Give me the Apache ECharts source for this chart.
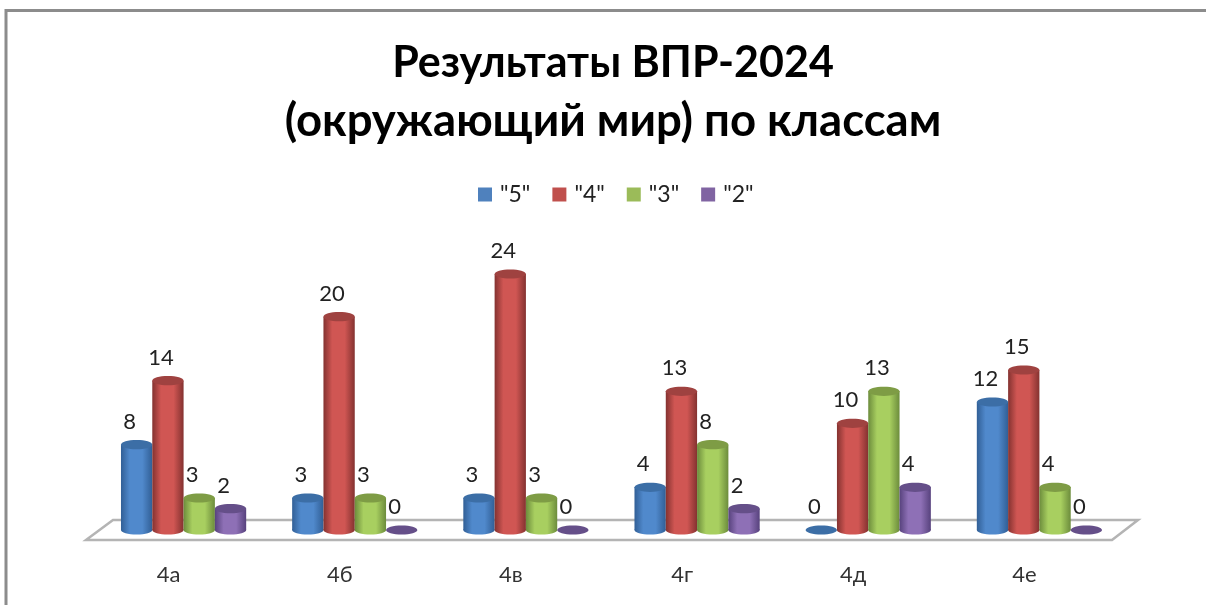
<!DOCTYPE html>
<html>
<head>
<meta charset="utf-8">
<script src="https://cdn.jsdelivr.net/npm/echarts@6/dist/echarts.min.js"></script>
<style>
  html, body { margin: 0; padding: 0; background: #fff; }
  #main { width: 1206px; height: 605px; }
</style>
</head>
<body>
<div id="main"></div>
<script>
const classes = ["4а", "4б", "4в", "4г", "4д", "4е"];
const seriesNames = ['"5"', '"4"', '"3"', '"2"'];
const grade5 = [8, 3, 3, 4, 0, 12];
const grade4 = [14, 20, 24, 13, 10, 15];
const grade3 = [3, 3, 3, 8, 13, 4];
const grade2 = [2, 0, 0, 2, 4, 0];
const seriesValues = [grade5, grade4, grade3, grade2];

// legend colour, edge of cylinder, middle of cylinder, top cap
const palette = [
  ["#4f81bd", "#315f96", "#5089cc", "#3c6ea6"],
  ["#c0504d", "#843230", "#d05653", "#9f4240"],
  ["#9bbb59", "#6c8c3c", "#a8cf60", "#7e9c45"],
  ["#8064a2", "#57427d", "#8e70b6", "#654f89"],
];

const barW = 31.3;
const capRy = 4.6;
const fontName = "Lato, 'Open Sans', sans-serif";

const myChart = echarts.init(document.getElementById("main"));

function cylinder(seriesIndex, params, api) {
  const value = api.value(1);
  const base = api.coord([api.value(0), 0]);
  const top = api.coord([api.value(0), value]);
  const cx = base[0] + (seriesIndex - 1.5) * barW;
  const rx = barW / 2;
  const colors = palette[seriesIndex];
  const side = new echarts.graphic.LinearGradient(0, 0, 1, 0, [
    { offset: 0, color: colors[1] },
    { offset: 0.28, color: colors[2] },
    { offset: 0.68, color: colors[2] },
    { offset: 1, color: colors[1] },
  ]);
  const children = [];
  if (value > 0) {
    children.push({
      type: "ellipse",
      shape: { cx: cx, cy: base[1], rx: rx, ry: capRy },
      style: { fill: side },
    });
    children.push({
      type: "rect",
      shape: { x: cx - rx, y: top[1], width: barW, height: base[1] - top[1] },
      style: { fill: side },
    });
  }
  children.push({
    type: "ellipse",
    shape: { cx: cx, cy: top[1], rx: rx, ry: capRy },
    style: { fill: colors[3] },
  });
  children.push({
    type: "text",
    style: {
      text: String(value),
      x: cx - 7,
      y: top[1] - 23,
      align: "center",
      verticalAlign: "middle",
      fill: "#222",
      font: "22px " + fontName,
    },
  });
  return { type: "group", children: children };
}

const option = {
  animation: false,
  backgroundColor: "#fff",
  textStyle: { fontFamily: fontName },
  title: {
    text: "{a|Результаты ВПР-2024}\n{b|(окружающий мир) по классам}",
    left: 608,
    top: 29,
    textAlign: "center",
    textStyle: {
      fontFamily: fontName,
      fontWeight: "bold",
      color: "#000",
      rich: {
        a: { fontFamily: fontName, fontWeight: "bold", color: "#000", fontSize: 43, lineHeight: 58 },
        b: { fontFamily: fontName, fontWeight: "bold", color: "#000", fontSize: 45.5, lineHeight: 58 },
      },
    },
  },
  legend: {
    left: 478,
    top: 183,
    padding: 0,
    icon: "rect",
    itemWidth: 14,
    itemHeight: 14,
    itemGap: 22,
    data: seriesNames,
    textStyle: { fontSize: 23, color: "#222", padding: [0, 0, 0, 3] },
  },
  grid: { left: 98, right: 81, top: 210, bottom: 75 },
  xAxis: {
    type: "category",
    data: classes,
    axisLine: { show: false },
    axisTick: { show: false },
    axisLabel: {
      margin: 34,
      fontSize: 22,
      color: "#333",
      padding: [0, 30, 0, 0],
    },
  },
  yAxis: { type: "value", min: 0, max: 30, show: false },
  graphic: [
    // sheet edge and chart floor
    { type: "polyline", shape: { points: [[6, 605], [6, 10.5], [1206, 10.5]] }, style: { stroke: "#8c8c8c", lineWidth: 3, fill: null } },
    { type: "polygon", shape: { points: [[86, 540], [113, 520], [1138, 520], [1112, 540]] }, style: { fill: "#fff", stroke: "#b4b4b4", lineWidth: 2.5 } },
  ],
  series: seriesValues.map((values, index) => ({
    name: seriesNames[index],
    type: "custom",
    clip: false,
    itemStyle: { color: palette[index][0] },
    encode: { x: 0, y: 1 },
    data: values.map((v, i) => [i, v]),
    renderItem: (params, api) => cylinder(index, params, api),
  })),
};

option && myChart.setOption(option);
</script>
</body>
</html>
